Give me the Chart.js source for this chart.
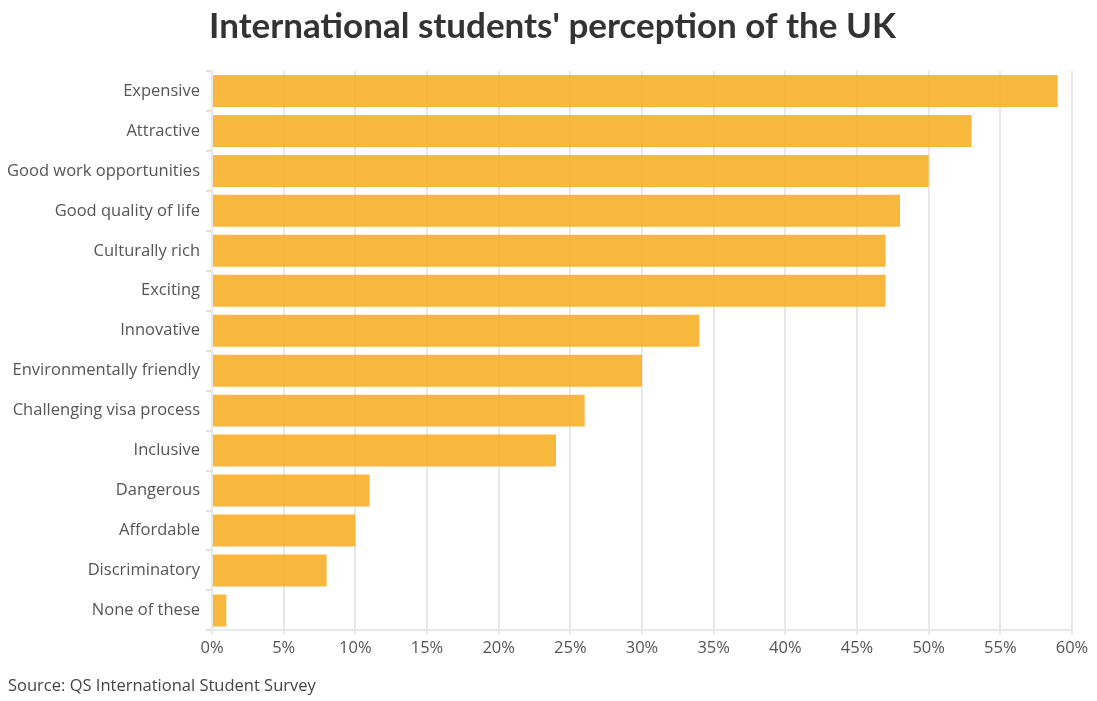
<!DOCTYPE html>
<html>
<head>
<meta charset="utf-8">
<script src="https://cdn.jsdelivr.net/npm/chart.js@4.4.0/dist/chart.umd.min.js"></script>
<style>
  html, body { margin: 0; padding: 0; background: #fff; }
  #wrap { width: 1097px; height: 701px; }
</style>
</head>
<body>
<div id="wrap"><canvas id="perceptionChart"></canvas></div>
<script>
const categories = [
    'Expensive', 'Attractive', 'Good work opportunities', 'Good quality of life',
    'Culturally rich', 'Exciting', 'Innovative', 'Environmentally friendly',
    'Challenging visa process', 'Inclusive', 'Dangerous', 'Affordable',
    'Discriminatory', 'None of these'
];
const shares = [59, 53, 50, 48, 47, 47, 34, 30, 26, 24, 11, 10, 8, 1];
const tickValues = [0, 5, 10, 15, 20, 25, 30, 35, 40, 45, 50, 55, 60];

const labelFont = { family: 'Open Sans', size: 16.5 };

const ctx = document.getElementById('perceptionChart').getContext('2d');
const perceptionChart = new Chart(ctx, {
    type: 'bar',
    data: {
        labels: categories,
        datasets: [{
            label: 'Share of respondents',
            data: shares,
            backgroundColor: 'rgba(247, 176, 40, 0.9)',
            borderWidth: 0,
            barPercentage: 0.8,
            categoryPercentage: 1.0
        }]
    },
    options: {
        indexAxis: 'y',
        responsive: true,
        maintainAspectRatio: false,
        animation: false,
        layout: { padding: { left: 8, right: 0, top: 0, bottom: 5 } },
        plugins: {
            legend: { display: false },
            tooltip: { enabled: false },
            title: {
                display: true,
                text: "International students' perception of the UK",
                color: '#333333',
                font: { family: 'Lato', size: 35, weight: 'bold' },
                padding: { top: 6, bottom: 23 }
            },
            subtitle: {
                display: true,
                position: 'bottom',
                align: 'start',
                text: 'Source: QS International Student Survey',
                color: '#444444',
                font: labelFont,
                padding: { top: 14, bottom: 0 }
            }
        },
        scales: {
            x: {
                min: 0,
                max: 60,
                afterBuildTicks: axis => {
                    axis.ticks = tickValues.map(v => ({ value: v }));
                },
                afterFit: axis => { axis.paddingRight = 25; },
                ticks: {
                    color: '#555555',
                    font: labelFont,
                    padding: 4,
                    callback: value => value + '%'
                },
                grid: {
                    color: '#e8e8e8',
                    lineWidth: 2,
                    tickLength: 4
                },
                border: { display: true, color: '#e8e8e8', width: 2 }
            },
            y: {
                afterFit: axis => { axis.width = 204; },
                ticks: {
                    color: '#555555',
                    font: labelFont,
                    padding: 6
                },
                grid: {
                    drawOnChartArea: false,
                    color: '#e0e0e0',
                    lineWidth: 2,
                    tickLength: 6
                },
                border: { display: true, color: '#e8e8e8', width: 2 }
            }
        }
    }
});
</script>
</body>
</html>
